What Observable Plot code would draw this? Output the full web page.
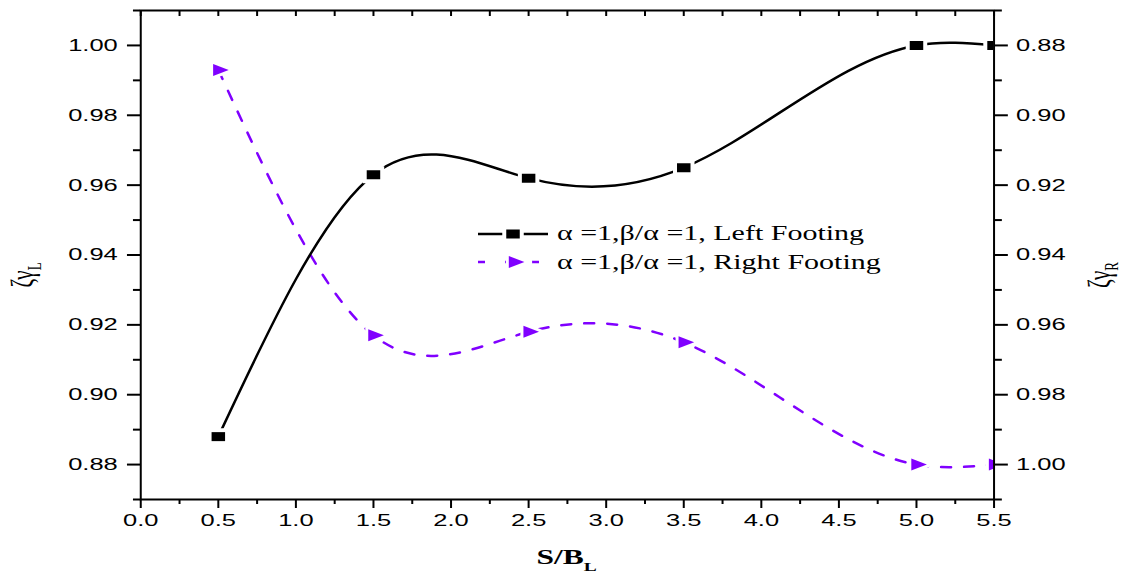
<!DOCTYPE html>
<html>
<head>
<meta charset="utf-8">
<script src="https://cdn.jsdelivr.net/npm/d3@7"></script>
<script src="https://cdn.jsdelivr.net/npm/@observablehq/plot@0.6"></script>
<style>
  html, body { margin: 0; padding: 0; background: white; }
  #chart { width: 1122px; height: 577px; overflow: hidden; }
</style>
</head>
<body>
<div id="chart"></div>
<script>
// ---- data ----
const sRatio = [0.5, 1.5, 2.5, 3.5, 5.0, 5.5];
const leftFooting = [0.888, 0.963, 0.962, 0.965, 1.000, 1.000];   // left axis
const rightFooting = [0.887, 0.963, 0.962, 0.965, 1.000, 1.000];  // right axis (reversed)

const xMajor = [0.0, 0.5, 1.0, 1.5, 2.0, 2.5, 3.0, 3.5, 4.0, 4.5, 5.0, 5.5];
const xMinor = [0.25, 0.75, 1.25, 1.75, 2.25, 2.75, 3.25, 3.75, 4.25, 4.75, 5.25];
const yLeftMajor = [0.88, 0.90, 0.92, 0.94, 0.96, 0.98, 1.00];
const yLeftMinor = [0.87, 0.89, 0.91, 0.93, 0.95, 0.97, 0.99, 1.01];
const yRightMajor = [0.88, 0.90, 0.92, 0.94, 0.96, 0.98, 1.00];
const yRightMinor = [0.87, 0.89, 0.91, 0.93, 0.95, 0.97, 0.99, 1.01];

const legendLeft = "α =1,β/α =1, Left Footing";
const legendRight = "α =1,β/α =1, Right Footing";

// right axis is reversed: 0.88 at top, 1.00 at bottom -> map onto left scale
const rightToLeft = v => 1.88 - v;

const leftRows = sRatio.map((x, i) => ({x, v: leftFooting[i]}));
const rightRows = sRatio.map((x, i) => ({x, v: rightFooting[i]}));

// natural cubic spline y(x) as a d3-style curve factory (renders exact Bezier segments)
function curveSplineX(context) {
  let xs, ys;
  return {
    areaStart() {}, areaEnd() {},
    lineStart() { xs = []; ys = []; },
    point(x, y) { xs.push(+x); ys.push(+y); },
    lineEnd() {
      const n = xs.length;
      if (!n) return;
      context.moveTo(xs[0], ys[0]);
      if (n === 1) return;
      if (n === 2) { context.lineTo(xs[1], ys[1]); return; }
      const h = [], M = new Array(n).fill(0);
      for (let i = 0; i < n - 1; i++) h.push(xs[i + 1] - xs[i]);
      const a = [], b = [], c = [], d = [];
      for (let i = 1; i < n - 1; i++) {
        a.push(h[i - 1]); b.push(2 * (h[i - 1] + h[i])); c.push(h[i]);
        d.push(6 * ((ys[i + 1] - ys[i]) / h[i] - (ys[i] - ys[i - 1]) / h[i - 1]));
      }
      const m = b.length;
      for (let i = 1; i < m; i++) { const w = a[i] / b[i - 1]; b[i] -= w * c[i - 1]; d[i] -= w * d[i - 1]; }
      const sol = new Array(m);
      sol[m - 1] = d[m - 1] / b[m - 1];
      for (let i = m - 2; i >= 0; i--) sol[i] = (d[i] - c[i] * sol[i + 1]) / b[i];
      for (let i = 0; i < m; i++) M[i + 1] = sol[i];
      for (let i = 0; i < n - 1; i++) {
        const hi = h[i], s = (ys[i + 1] - ys[i]) / hi;
        const m0 = s - hi * (2 * M[i] + M[i + 1]) / 6;
        const m1 = s + hi * (M[i] + 2 * M[i + 1]) / 6;
        context.bezierCurveTo(xs[i] + hi / 3, ys[i] + m0 * hi / 3, xs[i + 1] - hi / 3, ys[i + 1] - m1 * hi / 3, xs[i + 1], ys[i + 1]);
      }
    }
  };
}

// ---- layout (drawn in a horizontally compressed viewBox, then stretched) ----
const S = 1.5;
const W = 1122 / S, H = 577;
const purple = "#8000ff";

const squareSym = {draw(ctx, size) { const w = Math.sqrt(size); ctx.rect(-w / 2, -w / 2, w, w); }};
const triRightSym = {draw(ctx, size) {
  const h = Math.sqrt(size * 4 / Math.sqrt(3)); const w = h * Math.sqrt(3) / 2;
  ctx.moveTo(-w / 3, -h / 2); ctx.lineTo(2 * w / 3, 0); ctx.lineTo(-w / 3, h / 2); ctx.closePath();
}};
const rSquare = Math.sqrt(81 / Math.PI);
const rTri = Math.sqrt(62.35 / Math.PI);

const axisFont = {fontSize: 17, fontFamily: "Liberation Sans, Arial, sans-serif"};

const plot = Plot.plot({
  width: W, height: H,
  marginLeft: 140 / S, marginRight: (1122 - 993.3) / S, marginTop: 10, marginBottom: 78,
  style: {fontFamily: "Liberation Sans, Arial, sans-serif", color: "black", background: "white"},
  x: {domain: [0, 5.5]},
  y: {domain: [0.87, 1.01]},
  marks: [
    Plot.line(rightRows, {x: "x", y: d => rightToLeft(d.v), stroke: purple, strokeWidth: 2.5, strokeDasharray: "10,13", curve: curveSplineX, clip: true}),
    Plot.dot(rightRows, {x: "x", y: d => rightToLeft(d.v), symbol: triRightSym, r: rTri, fill: purple, stroke: "white", strokeWidth: 6, paintOrder: "stroke", clip: true}),
    Plot.line(leftRows, {x: "x", y: "v", stroke: "black", strokeWidth: 2.5, curve: curveSplineX, clip: true}),
    Plot.dot(leftRows, {x: "x", y: "v", symbol: squareSym, r: rSquare, fill: "black", stroke: "white", strokeWidth: 8, paintOrder: "stroke", clip: true}),
    // left axis
    Plot.axisY({anchor: "left", ticks: yLeftMajor, tickSize: 8.7, tickPadding: 6.6, tickFormat: d => d.toFixed(2), strokeWidth: 2, label: null, ...axisFont}),
    Plot.axisY({anchor: "left", ticks: yLeftMinor, tickSize: 4.7, tickFormat: () => "", strokeWidth: 2, label: null}),
    // right axis
    Plot.axisY({anchor: "right", ticks: yRightMajor.map(rightToLeft), tickSize: 8.7, tickPadding: 6, tickFormat: d => rightToLeft(d).toFixed(2), strokeWidth: 2, label: null, ...axisFont}),
    Plot.axisY({anchor: "right", ticks: yRightMinor.map(rightToLeft), tickSize: 4.7, tickFormat: () => "", strokeWidth: 2, label: null}),
    // bottom axis
    Plot.axisX({anchor: "bottom", ticks: xMajor, tickSize: 9, tickPadding: 5, tickFormat: d => d.toFixed(1), strokeWidth: 2, label: null, ...axisFont}),
    Plot.axisX({anchor: "bottom", ticks: xMinor, tickSize: 5, tickFormat: () => "", strokeWidth: 2, label: null}),
    // top axis: inward ticks
    Plot.axisX({anchor: "top", ticks: xMajor.concat(xMinor), tickSize: 5, dy: 5, tickFormat: () => "", strokeWidth: 2, label: null}),
    Plot.frame({stroke: "black", strokeWidth: 2})
  ]
});

plot.setAttribute("width", 1122);
plot.setAttribute("height", 577);
plot.setAttribute("viewBox", `0 0 ${W} ${H}`);
plot.setAttribute("preserveAspectRatio", "none");
plot.style.width = "1122px";
plot.style.height = "577px";
plot.style.maxWidth = "none";

const svg = d3.select(plot);
const serif = "Liberation Serif, Times New Roman, serif";

// x axis title
const xt = svg.append("text").attr("x", (140 + 993.3) / 2 / S).attr("y", 564)
  .attr("text-anchor", "middle").attr("font-family", serif).attr("font-weight", "bold").attr("font-size", 21).attr("fill", "black");
xt.append("tspan").text("S/B");
xt.append("tspan").attr("font-size", 13).attr("dy", 7).text("L");

// y axis titles
function yTitle(x, sub) {
  const t = svg.append("text").attr("transform", `translate(${x},275) rotate(-90)`)
    .attr("text-anchor", "middle").attr("font-family", serif).attr("font-size", 21).attr("fill", "black");
  t.append("tspan").text("ζγ");
  t.append("tspan").attr("font-size", 13).attr("dy", 5).text(sub);
}
yTitle(33 / S, "L");
yTitle(1110 / S, "R");

// legend
const lg = svg.append("g").attr("text-anchor", "start");
lg.append("line").attr("x1", 478 / S).attr("x2", 548 / S).attr("y1", 234).attr("y2", 234).attr("stroke", "black").attr("stroke-width", 2.5);
lg.append("path").attr("transform", `translate(${513 / S},234)`).attr("d", d3.symbol(squareSym, 81)())
  .attr("fill", "black").attr("stroke", "white").attr("stroke-width", 8).attr("paint-order", "stroke");
lg.append("line").attr("x1", 478 / S).attr("x2", 548 / S).attr("y1", 262).attr("y2", 262).attr("stroke", purple).attr("stroke-width", 2.5).attr("stroke-dasharray", "7,20");
lg.append("path").attr("transform", `translate(${514 / S},262)`).attr("d", d3.symbol(triRightSym, 62.35)())
  .attr("fill", purple).attr("stroke", "white").attr("stroke-width", 6).attr("paint-order", "stroke");
lg.append("text").attr("x", 557 / S).attr("y", 240).attr("text-anchor", "start").attr("font-family", serif).attr("font-size", 20).attr("fill", "black").text(legendLeft);
lg.append("text").attr("x", 557 / S).attr("y", 269).attr("text-anchor", "start").attr("font-family", serif).attr("font-size", 20).attr("fill", "black").text(legendRight);

plot.querySelectorAll("path, line, rect").forEach(el => el.setAttribute("vector-effect", "non-scaling-stroke"));

document.getElementById("chart").appendChild(plot);
</script>
</body>
</html>
